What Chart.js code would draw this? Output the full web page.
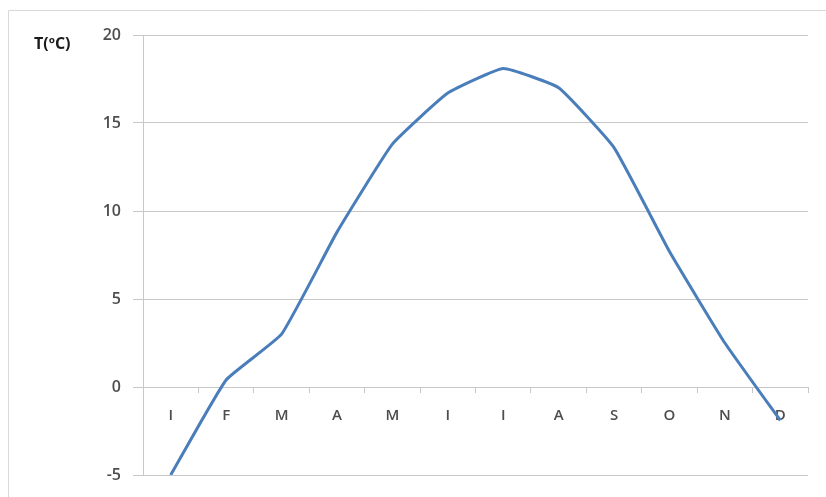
<!DOCTYPE html>
<html>
<head>
<meta charset="utf-8">
<script src="https://cdn.jsdelivr.net/npm/chart.js@4"></script>
<style>
  html, body { margin: 0; padding: 0; background: #fff; }
  #wrap { width: 826px; height: 497px; position: relative; }
</style>
</head>
<body>
<div id="wrap"><canvas id="c" width="826" height="497"></canvas></div>
<script>
// Monthly mean temperature (ºC)
const months = ['I', 'F', 'M', 'A', 'M', 'I', 'I', 'A', 'S', 'O', 'N', 'D'];
const temperatures = [-5.0, 0.4, 3.0, 8.8, 13.8, 16.7, 18.1, 17.0, 13.6, 7.7, 2.5, -1.9];
const yTicks = [-5, 0, 5, 10, 15, 20];
const yLabel = 'T(ºC)';

const gridGray = '#c8c8c8';
const textGray = '#4d4d4d';
const fontFamily = '"Open Sans", "Liberation Sans", sans-serif';

// Frame around the figure and the unit label beside the top tick
const decorations = {
  id: 'decorations',
  afterDraw(chart) {
    const ctx = chart.ctx;
    ctx.save();
    ctx.strokeStyle = '#d9d9d9';
    ctx.lineWidth = 1;
    ctx.beginPath();
    ctx.moveTo(8.5, 497);
    ctx.lineTo(8.5, 10.5);
    ctx.lineTo(826, 10.5);
    ctx.stroke();
    const y20 = chart.scales.y.getPixelForValue(20);
    ctx.fillStyle = '#1a1a1a';
    ctx.font = 'bold 16px ' + fontFamily;
    ctx.textBaseline = 'middle';
    ctx.textAlign = 'left';
    ctx.fillText(yLabel, 34, y20 + 9);
    ctx.restore();
  }
};

new Chart(document.getElementById('c'), {
  type: 'line',
  data: {
    labels: months,
    datasets: [{
      data: temperatures,
      borderColor: '#4a7ebb',
      borderWidth: 3,
      pointRadius: 0,
      tension: 0.12,
      fill: false
    }]
  },
  options: {
    responsive: false,
    animation: false,
    layout: { padding: { top: 35, right: 18, bottom: 22, left: 0 } },
    plugins: { legend: { display: false }, tooltip: { enabled: false } },
    scales: {
      x: {
        position: { y: 0 },
        offset: true,
        grid: {
          offset: true,
          drawOnChartArea: false,
          drawTicks: true,
          tickLength: 5,
          color: gridGray
        },
        border: { color: gridGray, width: 1 },
        ticks: {
          color: textGray,
          padding: 15,
          maxRotation: 0,
          autoSkip: false,
          font: { family: fontFamily, size: 15, weight: '600' }
        }
      },
      y: {
        min: -5,
        max: 20,
        afterBuildTicks(scale) {
          scale.ticks = yTicks.map(v => ({ value: v }));
        },
        afterFit(scale) { scale.width = 143; },
        grid: {
          color: gridGray,
          tickLength: 10,
          drawTicks: true
        },
        border: { color: gridGray, width: 1 },
        ticks: {
          color: textGray,
          padding: 12,
          font: { family: fontFamily, size: 16, weight: '600' }
        }
      }
    }
  },
  plugins: [decorations]
});
</script>
</body>
</html>
